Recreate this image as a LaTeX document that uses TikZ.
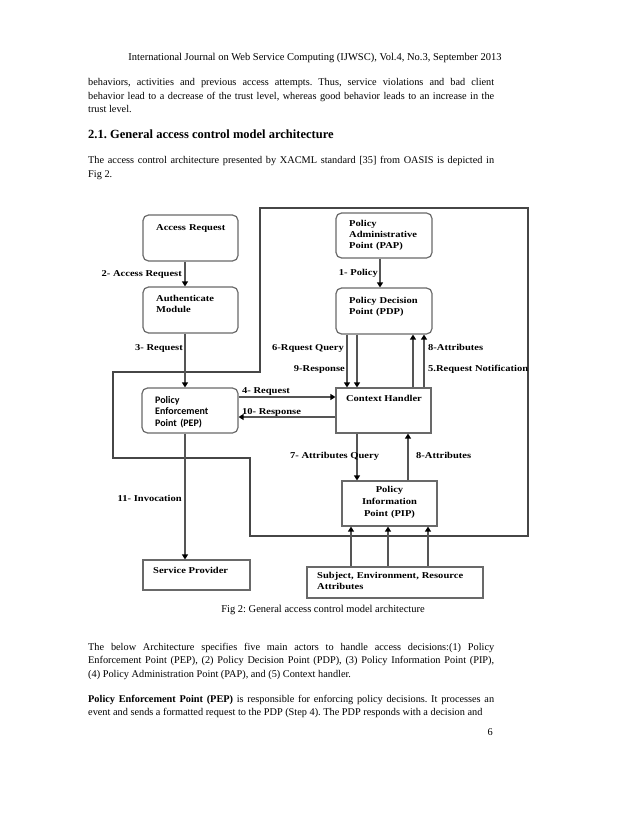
\documentclass[tikz,border=0pt]{standalone}
\usepackage{fontspec}
\setmainfont{Liberation Serif}
\newfontfamily\diafont[FakeStretch=1.17]{Liberation Serif}
\newfontfamily\pepfont{Carlito}
\usetikzlibrary{arrows.meta}
\definecolor{linegray}{RGB}{85,85,85}
\definecolor{boxgray}{RGB}{105,105,105}
\definecolor{framegray}{RGB}{70,70,70}
\frenchspacing
\tikzset{
  conn/.style={draw=linegray, line width=1.8pt},
  arr/.style={conn, -{Triangle[length=5pt,width=6pt,color=black,fill=black]}},
  rbox/.style={draw=boxgray, line width=1.2pt, rounded corners=5.5pt, inner sep=0pt},
  sbox/.style={draw=boxgray, line width=1.2pt, inner sep=0pt},
  frameline/.style={draw=framegray, line width=1.3pt},
  dlbl/.style={font=\diafont\bfseries\fontsize{9}{11}\selectfont, inner sep=0pt},
  btxt/.style={font=\diafont\bfseries\fontsize{9}{11.5}\selectfont, inner sep=0pt, text width=95pt, align=left},
  ptxt/.style={font=\pepfont\bfseries\fontsize{10}{11.5}\selectfont, inner sep=0pt, text width=95pt, align=left},
  bodytext/.style={font=\fontsize{10.3}{13.5}\selectfont, inner sep=0pt, text width=406pt, align=justify, anchor=base west}
}
\begin{document}
\begin{tikzpicture}[x=1pt,y=-1pt]
\useasboundingbox[fill=white] (0,0) rectangle (638,826);

% ---- page text ----
\node[font=\fontsize{10.5}{12}\selectfont, inner sep=0pt, anchor=base] (hdr) at (315,61)
  {International Journal on Web Service Computing (IJWSC), Vol.4, No.3, September 2013};
\node[bodytext] (p1) at (88,86)
  {behaviors, activities and previous access attempts. Thus, service violations and bad client\linebreak
   behavior lead to a decrease of the trust level, whereas good behavior leads to an increase in the\linebreak
   trust level.};
\node[font=\bfseries\fontsize{12.5}{15}\selectfont, inner sep=0pt, anchor=base west] (sec) at (88,139)
  {2.1. General access control model architecture};
\node[bodytext] (p2) at (88,164)
  {The access control architecture presented by XACML standard [35] from OASIS is depicted in\linebreak Fig 2.};

% ---- frame ----
\draw[frameline] (260,208) -- (528,208) -- (528,536) -- (250,536) -- (250,458)
  -- (113,458) -- (113,372) -- (260,372) -- cycle;

% ---- boxes ----
\node[rbox, minimum width=95pt, minimum height=46pt] (ar)  at (190.5,238) {};
\node[rbox, minimum width=95pt, minimum height=46pt] (am)  at (190.5,310) {};
\node[rbox, minimum width=96pt, minimum height=45pt] (pap) at (384,235.5) {};
\node[rbox, minimum width=96pt, minimum height=46pt] (pdp) at (384,311) {};
\node[rbox, minimum width=96pt, minimum height=45pt] (pep) at (190,410.5) {};
\node[sbox, minimum width=95pt, minimum height=45pt] (ch)  at (383.5,410.5) {};
\node[sbox, minimum width=107pt, minimum height=30pt] (sp) at (196.5,575) {};
\node[sbox, minimum width=95pt, minimum height=45pt] (pip) at (389.5,503.5) {};
\node[sbox, minimum width=176pt, minimum height=31pt] (sub) at (395,582.5) {};

% ---- box texts ----
\node[btxt, anchor=base west] (tar) at (156,230) {Access Request};
\node[btxt, anchor=base west] (tam) at (156,301) {Authenticate\\Module};
\node[btxt, anchor=base west, font=\diafont\bfseries\fontsize{9}{11}\selectfont] (tpap) at (349,226) {Policy\\Administrative\\Point (PAP)};
\node[btxt, anchor=base west] (tpdp) at (349,303) {Policy Decision\\Point (PDP)};
\node[ptxt, anchor=base west] (tpep) at (155,403) {Policy\\Enforcement\\Point (PEP)};
\node[dlbl, anchor=base] (tch) at (384,401) {Context Handler};
\node[btxt, anchor=base, align=center, font=\diafont\bfseries\fontsize{9}{12}\selectfont] (tpip) at (389.5,492) {Policy\\Information\\Point (PIP)};
\node[dlbl, anchor=base west] (tsp) at (153,573) {Service Provider};
\node[btxt, anchor=base west, text width=170pt] (tsub) at (317,578) {Subject, Environment, Resource\\Attributes};

% ---- connectors ----
\draw[arr] ([xshift=-5.5pt]ar.south) -- ([xshift=-5.5pt]am.north);
\draw[arr] ([xshift=-5.5pt]am.south) -- ([xshift=-5pt]pep.north);
\draw[arr] ([xshift=-4pt]pap.south) -- ([xshift=-4pt]pdp.north);
\draw[arr] ([xshift=-37pt]pdp.south) -- ([xshift=-36.5pt]ch.north);
\draw[arr] ([xshift=-27pt]pdp.south) -- ([xshift=-26.5pt]ch.north);
\draw[arr] ([xshift=29.5pt]ch.north) -- ([xshift=29pt]pdp.south);
\draw[arr] ([xshift=40.5pt]ch.north) -- ([xshift=40pt]pdp.south);
\draw[arr] ([yshift=13.5pt]pep.east) -- ([yshift=13.5pt]ch.west);
\draw[arr] ([yshift=-6.5pt]ch.west) -- ([yshift=-6.5pt]pep.east);
\draw[arr] ([xshift=-5pt]pep.south) -- ([xshift=-11.5pt]sp.north);
\draw[arr] ([xshift=-26.5pt]ch.south) -- ([xshift=-32.5pt]pip.north);
\draw[arr] ([xshift=18.5pt]pip.north) -- ([xshift=24.5pt]ch.south);
\draw[arr] ([xshift=-44pt]sub.north) -- ([xshift=-38.5pt]pip.south);
\draw[arr] ([xshift=-7pt]sub.north) -- ([xshift=-1.5pt]pip.south);
\draw[arr] ([xshift=33pt]sub.north) -- ([xshift=38.5pt]pip.south);

% ---- connector labels ----
\node[dlbl, anchor=base east] (l2) at (182,276) {2- Access Request};
\node[dlbl, anchor=base east] (l3) at (183,350) {3- Request};
\node[dlbl, anchor=base east] (l1) at (378,275) {1- Policy};
\node[dlbl, anchor=base east] (l6) at (344,350) {6-Rquest Query};
\node[dlbl, anchor=base east] (l9) at (345,371) {9-Response};
\node[dlbl, anchor=base west] (l8a) at (428,350) {8-Attributes};
\node[dlbl, anchor=base west] (l5) at (428,371) {5.Request Notification};
\node[dlbl, anchor=base west] (l4) at (242,393) {4- Request};
\node[dlbl, anchor=base west] (l10) at (242,414) {10- Response};
\node[dlbl, anchor=base east] (l11) at (182,501) {11- Invocation};
\node[dlbl, anchor=base west] (l7) at (290,458) {7- Attributes Query};
\node[dlbl, anchor=base west] (l8b) at (416,458) {8-Attributes};

% ---- caption and lower text ----
\node[font=\fontsize{10.5}{12}\selectfont, inner sep=0pt, anchor=base] (cap) at (323,612)
  {Fig 2: General access control model architecture};
\node[bodytext] (p3) at (88,650)
  {The below Architecture specifies five main actors to handle access decisions:(1) Policy\linebreak
   Enforcement Point (PEP), (2) Policy Decision Point (PDP), (3) Policy Information Point (PIP),\linebreak
   (4) Policy Administration Point (PAP), and (5) Context handler.};
\node[bodytext] (p4) at (88,702)
  {\parfillskip=0pt \textbf{Policy Enforcement Point (PEP)} is responsible for enforcing policy decisions. It processes an\linebreak
   event and sends a formatted request to the PDP (Step 4). The PDP responds with a decision and};
\node[font=\fontsize{10.3}{12}\selectfont, inner sep=0pt, anchor=base east] (pg) at (493,735) {6};
\end{tikzpicture}
\end{document}
